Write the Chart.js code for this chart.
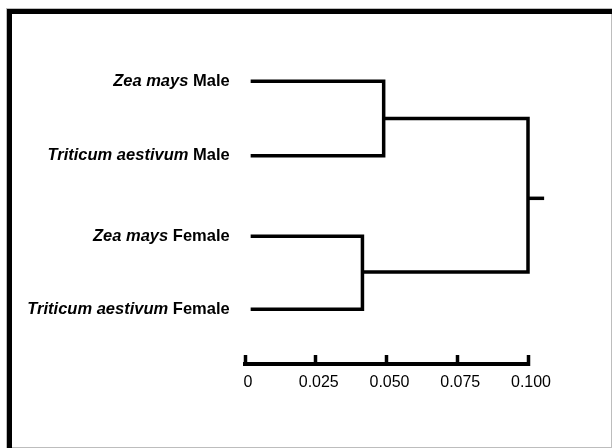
<!DOCTYPE html>
<html>
<head>
<meta charset="utf-8">
<script src="https://cdn.jsdelivr.net/npm/chart.js@4"></script>
<style>
  html, body { margin: 0; padding: 0; background: #fff; }
  #wrap { position: relative; width: 612px; height: 448px; }
</style>
</head>
<body>
<div id="wrap"><canvas id="c" width="612" height="448"></canvas></div>
<script>
// ---- data ----
const leafSpecies = ["Zea mays", "Triticum aestivum", "Zea mays", "Triticum aestivum"];
const leafSex = ["Male", "Male", "Female", "Female"];
const leafY = [3.72, 2.74, 1.68, 0.72];      // vertical leaf positions
const leafStart = 0.002;                      // distance where leaf branches start
const maleJoin = { x: 0.049, y: 3.23 };       // Zea/Triticum male merge
const femaleJoin = { x: 0.0415, y: 1.21 };    // Zea/Triticum female merge
const rootJoin = { x: 0.1, y: 2.18, stubEnd: 0.1057 };
const tickValues = [0, 0.025, 0.05, 0.075, 0.1];
const tickLabels = ["0", "0.025", "0.050", "0.075", "0.100"];

const FONT = '"Liberation Sans", Arial, sans-serif';

const maleCluster = [
  { x: leafStart, y: leafY[0] }, { x: maleJoin.x, y: leafY[0] },
  { x: maleJoin.x, y: leafY[1] }, { x: leafStart, y: leafY[1] }
];
const femaleCluster = [
  { x: leafStart, y: leafY[2] }, { x: femaleJoin.x, y: leafY[2] },
  { x: femaleJoin.x, y: leafY[3] }, { x: leafStart, y: leafY[3] }
];
const rootLink = [
  { x: maleJoin.x, y: maleJoin.y }, { x: rootJoin.x, y: maleJoin.y },
  { x: rootJoin.x, y: femaleJoin.y }, { x: femaleJoin.x, y: femaleJoin.y }
];
const rootStub = [
  { x: rootJoin.x, y: rootJoin.y }, { x: rootJoin.stubEnd, y: rootJoin.y }
];

function branch(data) {
  return {
    data: data,
    showLine: true,
    borderColor: '#000',
    borderWidth: 3.5,
    pointRadius: 0,
    borderJoinStyle: 'miter',
    borderCapStyle: 'butt',
    fill: false,
    tension: 0,
    clip: false
  };
}

const framePlugin = {
  id: 'frame',
  beforeDraw(chart) {
    const ctx = chart.ctx;
    ctx.save();
    ctx.fillStyle = '#fff';
    ctx.fillRect(0, 0, 612, 448);
    ctx.fillStyle = '#bdbdbd';
    ctx.fillRect(6, 8, 606, 1);
    ctx.fillRect(6, 8, 1, 440);
    ctx.fillRect(611, 14, 1, 434);
    ctx.fillRect(6, 447, 606, 1);
    ctx.fillStyle = '#000';
    ctx.fillRect(7, 9, 605, 5);
    ctx.fillRect(7, 9, 5, 439);
    ctx.restore();
  }
};

const leafLabelPlugin = {
  id: 'leafLabels',
  afterDatasetsDraw(chart) {
    const ctx = chart.ctx;
    const xs = chart.scales.x, ys = chart.scales.y;
    ctx.save();
    ctx.fillStyle = '#000';
    ctx.textBaseline = 'middle';
    ctx.textAlign = 'left';
    const boldFont = 'bold 16.5px ' + FONT;
    const italicFont = 'italic bold 16.5px ' + FONT;
    leafSpecies.forEach((sp, i) => {
      const y = ys.getPixelForValue(leafY[i]);
      const right = xs.getPixelForValue(leafStart) - 21;
      ctx.font = boldFont;
      const sexText = ' ' + leafSex[i];
      const w2 = ctx.measureText(sexText).width;
      ctx.font = italicFont;
      const w1 = ctx.measureText(sp).width;
      ctx.fillText(sp, right - w2 - w1, y);
      ctx.font = boldFont;
      ctx.fillText(sexText, right - w2, y);
    });
    ctx.restore();
  }
};

new Chart(document.getElementById('c'), {
  type: 'scatter',
  data: {
    datasets: [branch(maleCluster), branch(femaleCluster), branch(rootLink), branch(rootStub)]
  },
  options: {
    responsive: false,
    animation: false,
    events: [],
    layout: { padding: { left: 245, right: 84, top: 60, bottom: 37.8 } },
    plugins: { legend: { display: false }, tooltip: { enabled: false } },
    scales: {
      x: {
        type: 'linear',
        min: 0,
        max: 0.1,
        afterBuildTicks(scale) { scale.ticks = tickValues.map(v => ({ value: v })); },
        ticks: {
          callback: (v, i) => tickLabels[i],
          color: '#000',
          font: { family: FONT, size: 16 },
          padding: 18,
          labelOffset: 3,
          maxRotation: 0,
          autoSkip: false
        },
        grid: {
          drawOnChartArea: false,
          drawTicks: true,
          tickLength: -9,
          tickColor: '#000',
          tickWidth: 3.5,
          color: '#000'
        },
        border: { display: true, color: '#000', width: 4 }
      },
      y: {
        type: 'linear',
        display: false,
        min: 0,
        max: 4
      }
    }
  },
  plugins: [framePlugin, leafLabelPlugin]
});
</script>
</body>
</html>
